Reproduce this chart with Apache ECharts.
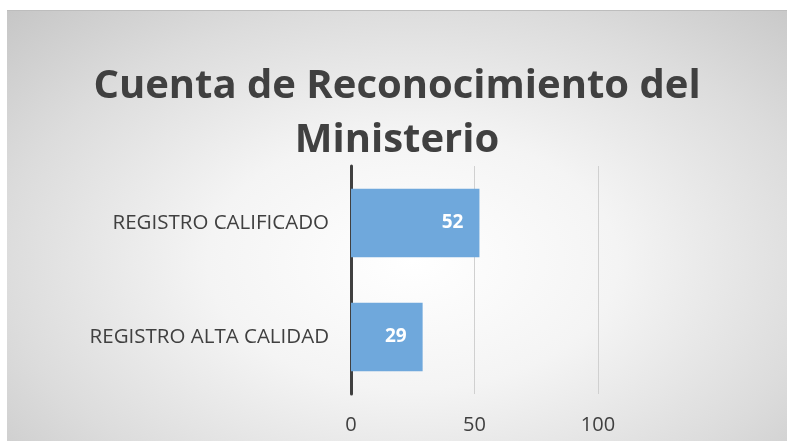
<!DOCTYPE html>
<html>
<head>
<meta charset="utf-8">
<script src="https://cdn.jsdelivr.net/npm/echarts@6/dist/echarts.min.js"></script>
<style>
  html, body { margin: 0; padding: 0; background: #fff; }
  #chart {
    position: absolute; left: 7px; top: 10px; width: 780px; height: 431px;
    border-top: 1px solid #bdbdbd;
    background: radial-gradient(ellipse 75% 85% at 52% 58%, #ffffff 0%, #f4f4f4 35%, #dcdcdc 70%, #c4c4c4 100%);
  }
</style>
</head>
<body>
<div id="chart"></div>
<script>
// categories, bottom to top as echarts draws them
var categories = ["REGISTRO ALTA CALIDAD", "REGISTRO CALIFICADO"];
var values = [29, 52];
var titleText = "Cuenta de Reconocimiento del\nMinisterio";

var myChart = echarts.init(document.getElementById("chart"));
myChart.setOption({
  textStyle: { fontFamily: "Open Sans", color: "#404040" },
  title: {
    text: titleText,
    left: "center",
    top: 44,
    textStyle: {
      fontSize: 40,
      fontWeight: "bold",
      color: "#404040",
      lineHeight: 54,
      fontFamily: "Open Sans"
    }
  },
  grid: { left: 344, right: 189, top: 155, bottom: 48 },
  xAxis: {
    type: "value",
    min: 0,
    max: 100,
    interval: 50,
    axisLine: { show: false },
    axisTick: { show: false },
    splitLine: { lineStyle: { color: "#d0d0d0", width: 1 } },
    axisLabel: { fontSize: 20, color: "#404040", margin: 21 }
  },
  yAxis: {
    type: "category",
    data: categories,
    axisLine: { lineStyle: { color: "#404040", width: 3 } },
    axisTick: { show: false },
    axisLabel: { fontSize: 20.5, color: "#404040", margin: 22 }
  },
  series: [
    {
      type: "bar",
      data: values,
      barCategoryGap: "40%",
      itemStyle: { color: "#6fa8dc" },
      label: {
        show: true,
        position: "insideRight",
        distance: 16,
        color: "#fff",
        fontWeight: "bold",
        fontSize: 19
      }
    }
  ]
});
</script>
</body>
</html>
